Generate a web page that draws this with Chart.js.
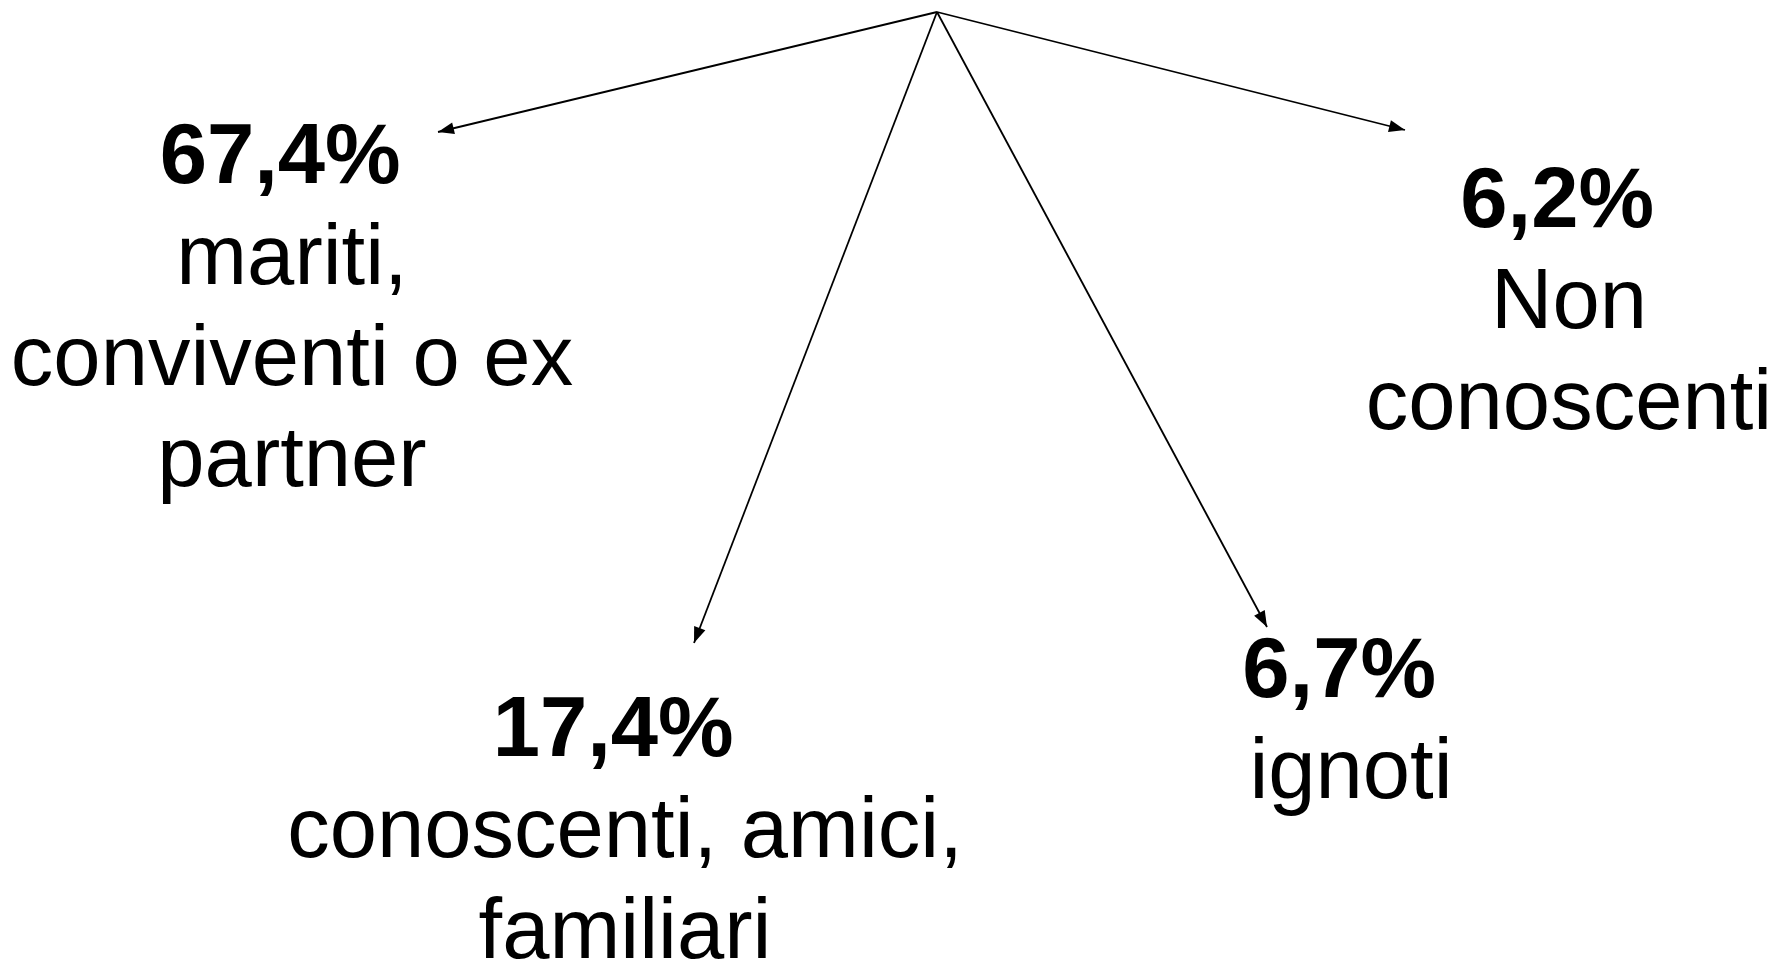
<!DOCTYPE html>
<html>
<head>
<meta charset="utf-8">
<script src="https://cdn.jsdelivr.net/npm/chart.js@4"></script>
<style>
  html, body { margin: 0; padding: 0; background: #ffffff; }
  #wrap { width: 1775px; height: 964px; position: relative; }
</style>
</head>
<body>
<div id="wrap"><canvas id="c"></canvas></div>
<script>
// ---- data ----
const categories = [
  ["mariti,", "conviventi o ex", "partner"],
  ["conoscenti, amici,", "familiari"],
  ["ignoti"],
  ["Non", "conoscenti"]
];
const values = [67.4, 17.4, 6.7, 6.2];

// ---- layout (positions in the diagram's coordinate space) ----
const origin = { x: 937, y: 12 };
const arrowTips = [
  { x: 438, y: 132 },
  { x: 694, y: 643 },
  { x: 1267, y: 627 },
  { x: 1405, y: 130 }
];
const labelAnchors = [
  { x: 292, y: 183 },
  { x: 625, y: 756 },
  { x: 1351, y: 697 },
  { x: 1569, y: 227 }
];

const FONT_FAMILY = '"Liberation Sans", Arial, Helvetica, sans-serif';
const FONT_SIZE = 85;
const LINE_H = 101;

function fmt(v) { return v.toFixed(1).replace('.', ',') + '%'; }

const datasets = arrowTips.map((tip, i) => ({
  label: fmt(values[i]),
  data: [{ x: origin.x, y: origin.y }, { x: tip.x, y: tip.y }],
  showLine: true,
  borderColor: '#000000',
  borderWidth: 1.8,
  pointRadius: 0,
  pointHoverRadius: 0,
  fill: false
}));

const arrowPlugin = {
  id: 'arrows',
  afterDatasetsDraw(chart) {
    const ctx = chart.ctx;
    chart.data.datasets.forEach((ds, i) => {
      const meta = chart.getDatasetMeta(i);
      const p0 = meta.data[0], p1 = meta.data[1];
      const ang = Math.atan2(p1.y - p0.y, p1.x - p0.x);
      const L = 16, W = 6;
      ctx.save();
      ctx.fillStyle = '#000';
      ctx.beginPath();
      ctx.moveTo(p1.x, p1.y);
      ctx.lineTo(p1.x - L * Math.cos(ang) + W * Math.sin(ang), p1.y - L * Math.sin(ang) - W * Math.cos(ang));
      ctx.lineTo(p1.x - L * Math.cos(ang) - W * Math.sin(ang), p1.y - L * Math.sin(ang) + W * Math.cos(ang));
      ctx.closePath();
      ctx.fill();
      ctx.restore();
    });
  }
};

const labelPlugin = {
  id: 'labels',
  afterDraw(chart) {
    const ctx = chart.ctx;
    const xs = chart.scales.x, ys = chart.scales.y;
    ctx.save();
    ctx.fillStyle = '#000';
    ctx.textBaseline = 'alphabetic';
    ctx.textAlign = 'left';
    labelAnchors.forEach((a, i) => {
      const cx = xs.getPixelForValue(a.x);
      let y = ys.getPixelForValue(a.y);
      // bold percentage line (with trailing space, as in the original)
      ctx.font = 'bold ' + FONT_SIZE + 'px ' + FONT_FAMILY;
      const t = fmt(values[i]);
      const w = ctx.measureText(t + ' ').width;
      ctx.fillText(t, cx - w / 2, y);
      ctx.font = FONT_SIZE + 'px ' + FONT_FAMILY;
      categories[i].forEach(line => {
        y += LINE_H;
        const lw = ctx.measureText(line).width;
        ctx.fillText(line, cx - lw / 2, y);
      });
    });
    ctx.restore();
  }
};

new Chart(document.getElementById('c'), {
  type: 'scatter',
  data: { datasets },
  options: {
    responsive: true,
    maintainAspectRatio: false,
    animation: false,
    layout: { padding: 0 },
    plugins: { legend: { display: false }, tooltip: { enabled: false } },
    events: [],
    scales: {
      x: { type: 'linear', min: 0, max: 1775, display: false },
      y: { type: 'linear', min: 0, max: 964, reverse: true, display: false }
    }
  },
  plugins: [arrowPlugin, labelPlugin]
});
</script>
</body>
</html>
